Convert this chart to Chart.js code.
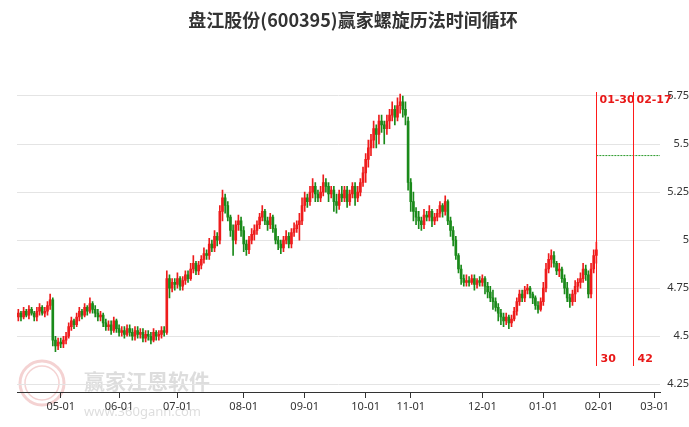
<!DOCTYPE html>
<html><head><meta charset="utf-8">
<script src="https://cdn.jsdelivr.net/npm/chart.js@4"></script>
<style>html,body{margin:0;padding:0;background:#fff}#w{width:689px;height:427px}</style>
</head><body><div id="w"><canvas id="c"></canvas></div>
<script>
const OPEN=[4.60,4.62,4.60,4.63,4.61,4.64,4.62,4.60,4.63,4.65,4.62,4.63,4.66,
4.69,4.48,4.45,4.47,4.46,4.48,
4.50,4.55,4.58,4.56,4.60,4.63,4.61,4.65,4.63,4.67,
4.64,4.62,4.60,4.61,4.57,4.55,4.56,4.53,4.58,
4.54,4.52,4.53,4.51,4.54,4.52,4.50,4.53,4.51,4.52,4.49,4.51,4.50,4.48,4.52,4.50,4.51,4.53,
4.52,
4.80,4.75,4.78,4.77,4.80,4.76,4.79,4.82,4.80,4.85,4.88,4.84,
4.87,4.90,4.93,4.92,4.98,4.96,5.02,
5.00,5.15,5.22,5.18,
5.12,5.05,5.00,5.08,5.10,5.05,4.98,4.95,5.00,5.03,5.05,
5.08,5.12,5.15,5.10,5.08,5.12,5.06,5.00,
4.98,4.96,5.00,5.02,4.98,5.04,5.06,5.08,
5.10,5.18,5.22,5.20,5.25,5.28,5.24,5.22,5.25,5.30,5.28,5.24,
5.26,5.20,5.18,5.24,5.22,5.26,5.20,5.24,5.28,5.22,5.25,5.30,
5.35,5.42,5.48,5.52,5.58,5.55,5.62,5.60,
5.58,5.62,5.65,5.68,5.64,5.70,5.72,5.68,
5.62,5.30,5.20,
5.15,5.12,5.10,5.08,5.13,5.12,5.15,5.10,5.12,5.14,5.18,5.15,5.20,5.10,5.05,5.00,
4.92,4.85,4.80,4.78,4.79,4.78,4.80,4.77,4.79,4.78,4.80,4.76,
4.73,4.70,4.68,4.65,4.62,4.60,4.58,4.60,4.57,
4.59,4.63,4.68,4.72,4.70,4.74,4.75,4.72,4.70,4.66,
4.64,4.68,4.75,4.85,4.90,4.92,
4.88,4.84,4.85,4.80,4.75,4.70,4.68,
4.72,4.76,4.78,4.80,4.85,4.82,4.72,4.85,4.92];
const HIGH=[4.64,4.63,4.65,4.64,4.66,4.65,4.63,4.65,4.67,4.66,4.65,4.68,4.72,
4.70,4.50,4.49,4.49,4.50,4.52,
4.57,4.60,4.59,4.62,4.65,4.64,4.67,4.66,4.70,4.68,
4.66,4.64,4.63,4.62,4.59,4.58,4.58,4.60,4.59,
4.56,4.55,4.55,4.56,4.56,4.54,4.55,4.55,4.54,4.54,4.53,4.53,4.52,4.54,4.53,4.53,4.55,4.55,
4.84,
4.82,4.80,4.80,4.83,4.81,4.81,4.84,4.84,4.88,4.92,4.89,4.89,
4.92,4.96,4.95,5.01,5.00,5.05,5.04,
5.18,5.26,5.24,5.20,
5.13,5.08,5.10,5.13,5.12,5.07,5.00,5.02,5.06,5.08,5.10,
5.14,5.18,5.16,5.12,5.14,5.13,5.08,5.02,
5.00,5.02,5.05,5.04,5.06,5.09,5.10,5.14,
5.22,5.25,5.24,5.28,5.32,5.30,5.26,5.28,5.34,5.32,5.30,5.28,
5.28,5.24,5.26,5.28,5.28,5.28,5.26,5.30,5.30,5.28,5.32,5.38,
5.45,5.52,5.55,5.62,5.60,5.65,5.65,5.62,
5.65,5.68,5.72,5.70,5.74,5.76,5.75,5.72,
5.64,5.32,5.25,
5.17,5.15,5.12,5.16,5.15,5.18,5.16,5.14,5.16,5.20,5.19,5.23,5.21,5.12,5.07,5.02,
4.93,4.87,4.82,4.82,4.81,4.82,4.82,4.80,4.81,4.82,4.81,4.78,
4.76,4.74,4.70,4.67,4.64,4.62,4.62,4.61,4.61,
4.65,4.70,4.74,4.74,4.76,4.77,4.76,4.73,4.71,4.68,
4.70,4.78,4.88,4.93,4.95,4.94,
4.89,4.88,4.86,4.82,4.78,4.72,4.74,
4.79,4.80,4.83,4.88,4.87,4.84,4.88,4.95,4.99];
const LOW=[4.58,4.58,4.59,4.60,4.59,4.61,4.58,4.58,4.61,4.61,4.60,4.61,4.64,
4.45,4.42,4.43,4.44,4.44,4.46,
4.49,4.53,4.54,4.55,4.58,4.59,4.60,4.61,4.62,4.62,
4.60,4.58,4.58,4.55,4.53,4.53,4.51,4.52,4.52,
4.50,4.50,4.49,4.50,4.50,4.48,4.48,4.49,4.49,4.47,4.47,4.48,4.46,4.47,4.48,4.48,4.49,4.50,
4.51,
4.70,4.73,4.74,4.75,4.74,4.74,4.77,4.78,4.79,4.83,4.82,4.82,
4.85,4.88,4.90,4.90,4.94,4.94,4.97,
4.98,5.10,5.14,5.10,
5.02,4.92,4.98,5.05,5.02,4.94,4.92,4.93,4.98,5.00,5.03,
5.06,5.10,5.08,5.05,5.06,5.04,4.98,4.95,
4.93,4.94,4.98,4.96,4.96,5.02,5.04,5.00,
5.08,5.15,5.17,5.18,5.22,5.20,5.20,5.20,5.23,5.25,5.20,5.22,
5.15,5.14,5.16,5.20,5.20,5.17,5.18,5.22,5.18,5.20,5.23,5.28,
5.30,5.38,5.44,5.48,5.48,5.50,5.56,5.50,
5.55,5.58,5.62,5.60,5.62,5.66,5.64,5.60,
5.26,5.15,5.10,
5.08,5.06,5.05,5.06,5.10,5.10,5.07,5.08,5.10,5.12,5.12,5.13,5.08,5.02,4.97,4.90,
4.83,4.77,4.76,4.76,4.76,4.77,4.74,4.75,4.76,4.76,4.72,4.70,
4.68,4.64,4.63,4.58,4.56,4.55,4.56,4.54,4.55,
4.58,4.61,4.66,4.68,4.68,4.72,4.70,4.67,4.64,4.62,
4.63,4.66,4.73,4.83,4.86,4.86,
4.82,4.81,4.78,4.72,4.68,4.65,4.66,
4.68,4.73,4.75,4.78,4.79,4.70,4.70,4.83,4.88];
const CLOSE=[4.62,4.60,4.63,4.61,4.64,4.62,4.60,4.63,4.65,4.62,4.63,4.66,4.69,
4.48,4.45,4.47,4.46,4.48,4.50,
4.55,4.58,4.56,4.60,4.63,4.61,4.65,4.63,4.67,4.64,
4.62,4.60,4.61,4.57,4.55,4.56,4.53,4.58,4.54,
4.52,4.53,4.51,4.54,4.52,4.50,4.53,4.51,4.52,4.49,4.51,4.50,4.48,4.52,4.50,4.51,4.53,4.52,
4.80,
4.75,4.78,4.77,4.80,4.76,4.79,4.82,4.80,4.85,4.88,4.84,4.87,
4.90,4.93,4.92,4.98,4.96,5.02,5.00,
5.15,5.22,5.18,5.12,
5.05,5.00,5.08,5.10,5.05,4.98,4.95,5.00,5.03,5.05,5.08,
5.12,5.15,5.10,5.08,5.12,5.06,5.00,4.98,
4.96,5.00,5.02,4.98,5.04,5.06,5.08,5.10,
5.18,5.22,5.20,5.25,5.28,5.24,5.22,5.25,5.30,5.28,5.24,5.26,
5.20,5.18,5.24,5.22,5.26,5.20,5.24,5.28,5.22,5.25,5.30,5.35,
5.42,5.48,5.52,5.58,5.55,5.62,5.60,5.58,
5.62,5.65,5.68,5.64,5.70,5.72,5.68,5.65,
5.30,5.20,5.15,
5.12,5.10,5.08,5.13,5.12,5.15,5.10,5.12,5.14,5.18,5.15,5.20,5.10,5.05,5.00,4.92,
4.85,4.80,4.78,4.79,4.78,4.80,4.77,4.79,4.78,4.80,4.76,4.73,
4.70,4.68,4.65,4.62,4.60,4.58,4.60,4.57,4.59,
4.63,4.68,4.72,4.70,4.74,4.75,4.72,4.70,4.66,4.64,
4.68,4.75,4.85,4.90,4.92,4.88,
4.84,4.85,4.80,4.75,4.70,4.68,4.72,
4.76,4.78,4.80,4.85,4.82,4.72,4.85,4.92,4.95];
const MONTH_TICK_IDX=[16,38,60,85,108,131,148,175,198,219,240];
const MONTH_LABELS=['05-01','06-01','07-01','08-01','09-01','10-01','11-01','12-01','01-01','02-01','03-01'];
const Y_TICKS=[4.25,4.5,4.75,5,5.25,5.5,5.75];
const Y_LABELS=['4.25','4.5','4.75','5','5.25','5.5','5.75'];
const CYCLE_IDX=[218,232];
const CYCLE_DATES=['01-30','02-17'];
const CYCLE_COUNTS=['30','42'];
const TARGET_PRICE=5.44;

const UP='#ee1c1c', DOWN='#1a8a1a';
const col=OPEN.map((o,i)=>CLOSE[i]>=o?UP:DOWN);
const bodies=OPEN.map((o,i)=>({x:i,y:[o,CLOSE[i]===o?o+0.003:CLOSE[i]]}));
const wicks=OPEN.map((o,i)=>({x:i,y:[LOW[i],HIGH[i]]}));

const overlay={id:'overlay',
 beforeDraw(ch){const c=ch.ctx;c.save();
  c.globalAlpha=0.22;c.strokeStyle='#c33';c.lineWidth=3;
  c.beginPath();c.arc(42,383,22,0,Math.PI*2);c.stroke();
  c.lineWidth=1.5;c.beginPath();c.arc(42,383,17,0,Math.PI*2);c.stroke();
  c.fillStyle='#666';c.font='bold 21px "Noto Sans CJK SC"';c.textBaseline='middle';
  c.fillText('赢家江恩软件',84,381);
  c.font='13px "Noto Sans"';c.fillText('www.360gann.com',84,412);
  c.restore();},
 afterDatasetsDraw(ch){const c=ch.ctx,x=ch.scales.x,y=ch.scales.y;c.save();
  const tY=y.getPixelForValue(TARGET_PRICE);
  const x0=x.getPixelForValue(CYCLE_IDX[0]);
  c.strokeStyle='#2a9a2a';c.setLineDash([2,1]);c.lineWidth=1;
  c.beginPath();c.moveTo(x0,tY);c.lineTo(ch.chartArea.right,tY);c.stroke();c.setLineDash([]);
  c.font='bold 11px "DejaVu Sans"';
  CYCLE_IDX.forEach((v,k)=>{const px=Math.round(x.getPixelForValue(v))+0.5;
   c.strokeStyle='#ff1a1a';c.fillStyle='#e81818';c.lineWidth=1;
   c.beginPath();c.moveTo(px,92);c.lineTo(px,366);c.stroke();
   c.textBaseline='middle';c.fillText(CYCLE_DATES[k],px+3,100);
   c.fillText(CYCLE_COUNTS[k],px+4,359);});
  c.restore();}};

new Chart(document.getElementById('c'),{
 data:{datasets:[
  {type:'bar',data:wicks,backgroundColor:col,barThickness:1,grouped:false,order:2},
  {type:'bar',data:bodies,backgroundColor:col,barThickness:2,grouped:false,order:1}]},
 options:{responsive:true,maintainAspectRatio:false,animation:false,
  layout:{padding:{left:17,right:0,top:0,bottom:0}},
  plugins:{legend:{display:false},tooltip:{enabled:false},
   title:{display:true,text:'盘江股份(600395)赢家螺旋历法时间循环',color:'#333',
    font:{family:'"Noto Sans CJK SC"',size:18,weight:'bold'},padding:{top:9,bottom:50}}},
  scales:{
   x:{type:'linear',min:-0.5,max:242,offset:false,
    afterBuildTicks(a){a.ticks=MONTH_TICK_IDX.map(v=>({value:v}));},
    ticks:{autoSkip:false,maxRotation:0,color:'#333',font:{family:'"Noto Sans"',size:11},padding:2,
     callback(v){const k=MONTH_TICK_IDX.indexOf(v);return k>=0?MONTH_LABELS[k]:'';}},
    grid:{display:true,offset:false,drawOnChartArea:false,drawTicks:true,tickLength:6,color:'#333'},
    border:{display:true,color:'#333'},afterFit(a){a.height=35;}},
   y:{position:'right',min:4.21,max:5.83,
    afterBuildTicks(a){a.ticks=Y_TICKS.map(v=>({value:v}));},
    ticks:{color:'#333',font:{family:'"Noto Sans"',size:11},crossAlign:'far',padding:2,
     callback(v){const k=Y_TICKS.indexOf(v);return k>=0?Y_LABELS[k]:'';}},
    grid:{color:'#e4e4e4',drawTicks:false},border:{display:false},
    afterFit(a){a.width=29;}}}},
 plugins:[overlay]});
</script></body></html>
